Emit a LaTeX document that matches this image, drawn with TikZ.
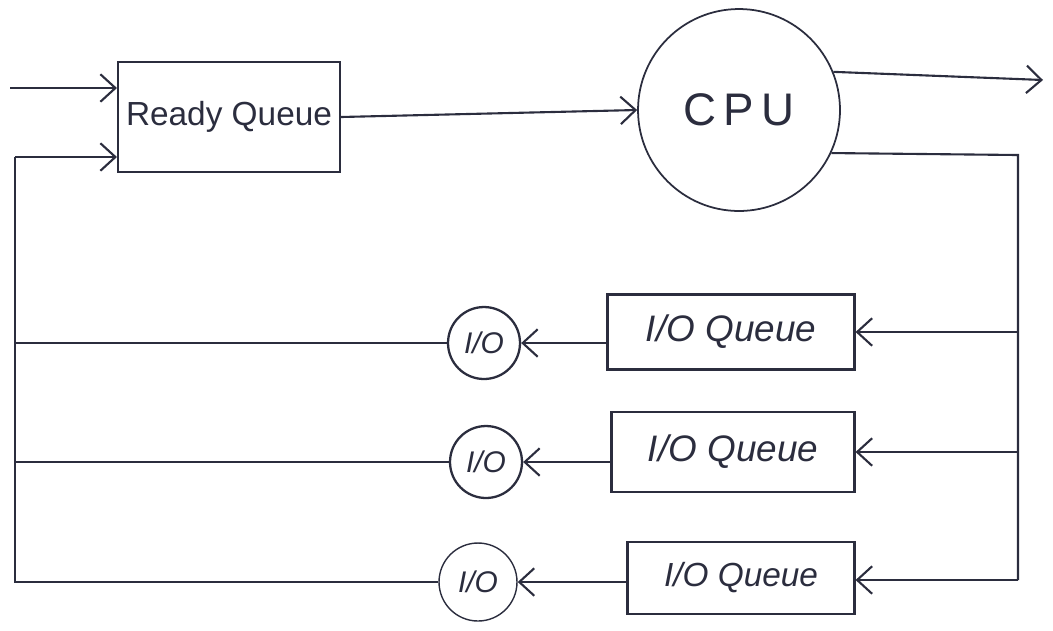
\documentclass[tikz,border=0pt]{standalone}
\usepackage{fontspec}
\setmainfont{Liberation Sans}
\usetikzlibrary{arrows.meta}
\definecolor{ink}{HTML}{2B2D3E}
\begin{document}
\begin{tikzpicture}[x=0.02cm,y=-0.02cm,color=ink,line width=1.2pt,
  arr/.style={-{Straight Barb[length=3mm,width=5.5mm,line width=1.2pt]}},
  box/.style={draw,line width=1.2pt,rectangle,inner sep=0pt},
  circ/.style={draw,line width=1pt,circle,inner sep=0pt}]
\useasboundingbox (0,0) rectangle (1053,630);
% nodes
\node[box,minimum width=4.44cm,minimum height=2.2cm,font=\fontsize{19}{24}\selectfont] (rq) at (229,117) {Ready Queue};
\node[circ,minimum size=4.04cm,font=\fontsize{26}{30}\selectfont] (cpu) at (739,110) {C\,P\,U};
\node[box,minimum width=4.94cm,minimum height=1.5cm,font=\fontsize{21}{24}\selectfont\itshape] (q1) at (731,332) {I/O Queue};
\node[box,minimum width=4.86cm,minimum height=1.6cm,font=\fontsize{21}{24}\selectfont\itshape] (q2) at (733,452) {I/O Queue};
\node[box,minimum width=4.54cm,minimum height=1.44cm,font=\fontsize{19}{24}\selectfont\itshape] (q3) at (741,578) {I/O Queue};
\node[circ,minimum size=1.44cm,line width=1.3pt,font=\fontsize{17}{20}\selectfont\itshape] (io1) at (484,343) {I/O};
\node[circ,minimum size=1.44cm,line width=1.3pt,font=\fontsize{17}{20}\selectfont\itshape] (io2) at (486,462) {I/O};
\node[circ,minimum size=1.56cm,line width=0.8pt,font=\fontsize{17}{20}\selectfont\itshape] (io3) at (478,582) {I/O};
% coordinates
\coordinate (in) at (10,88);
\coordinate (out) at (1043,80);
\coordinate (rt) at (1018,155);
\coordinate (rb) at (1018,580);
\coordinate (lt) at (15,157);
\coordinate (lb) at (15,582);
% connectors
\draw[arr] (in) -- (in -| rq.west);
\draw[arr] (rq.east) -- (cpu.west);
\draw[arr] (cpu.22) -- (out);
\draw (cpu.-25) -- (rt) -- (rb);
\draw[arr] (q1.east -| rt) -- (q1.east);
\draw[arr] (q2.east -| rt) -- (q2.east);
\draw[arr] (rb) -- (rb -| q3.east);
\draw[arr] (io1.east -| q1.west) -- (io1.east);
\draw[arr] (io2.east -| q2.west) -- (io2.east);
\draw[arr] (io3.east -| q3.west) -- (io3.east);
\draw (io1.west) -- (io1.west -| lt);
\draw (io2.west) -- (io2.west -| lt);
\draw (io3.west) -- (lb) -- (lt);
\draw[arr] (lt) -- (lt -| rq.west);
\end{tikzpicture}
\end{document}
